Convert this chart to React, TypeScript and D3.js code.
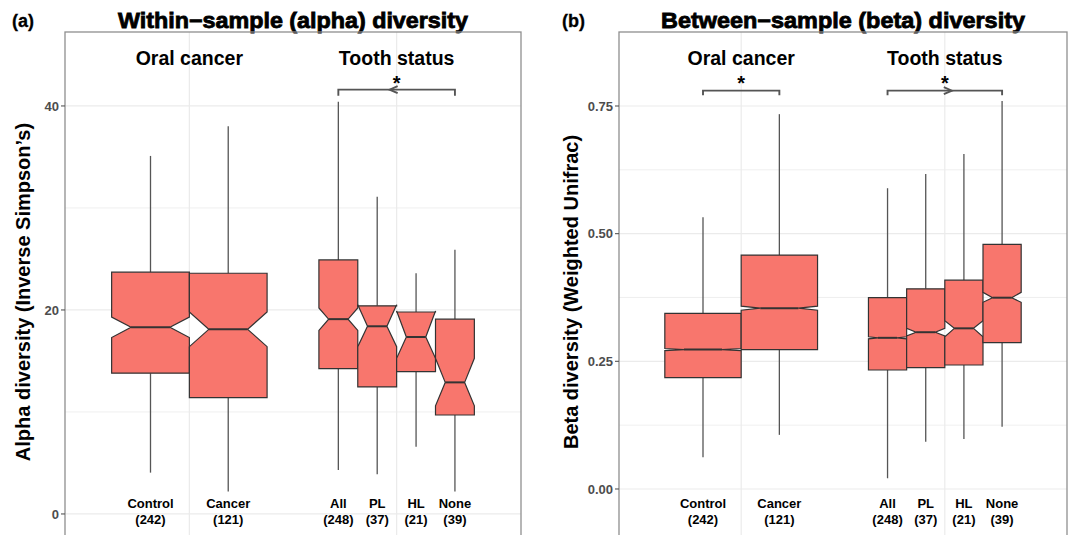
import React from "react";
import * as d3 from "d3";

// ---------------- data ----------------
const categories = ["Control", "Cancer", "All", "PL", "HL", "None"];
const sampleSizes = [242, 121, 248, 37, 21, 39];
const categoryGroup = [0, 0, 1, 1, 1, 1];
const groupNames = ["Oral cancer", "Tooth status"];

// alpha diversity (Inverse Simpson's)
const alphaLower = [4.05, 2.2, 4.3, 3.9, 6.6, 2.2];
const alphaQ1 = [13.8, 11.4, 14.25, 12.45, 13.95, 9.7];
const alphaMedian = [18.3, 18.1, 19.1, 18.4, 17.35, 12.9];
const alphaQ3 = [23.7, 23.6, 24.9, 20.4, 19.8, 19.1];
const alphaUpper = [35.1, 38.0, 40.4, 31.1, 23.6, 25.9];
const alphaNotchLow = [17.3, 16.4, 18.0, 16.4, 15.26, 10.6];
const alphaNotchHigh = [19.3, 19.8, 20.2, 20.5, 19.9, 15.26];
const alphaTicks = [0, 20, 40];
const alphaMinorTicks = [10, 30];
const alphaDomain = [-3.73, 47.25];

// beta diversity (Weighted Unifrac)
const betaLower = [0.062, 0.106, 0.021, 0.0926, 0.0979, 0.122];
const betaQ1 = [0.218, 0.273, 0.233, 0.2375, 0.2428, 0.2865];
const betaMedian = [0.273, 0.354, 0.296, 0.307, 0.3146, 0.3746];
const betaQ3 = [0.344, 0.458, 0.3746, 0.392, 0.409, 0.479];
const betaUpper = [0.532, 0.734, 0.589, 0.617, 0.656, 0.76];
const betaNotchLow = [0.271, 0.35, 0.294, 0.2996, 0.298, 0.3656];
const betaNotchHigh = [0.275, 0.358, 0.298, 0.3146, 0.3296, 0.385];
const betaTicks = [0, 0.25, 0.5, 0.75];
const betaTickLabels = ["0.00", "0.25", "0.50", "0.75"];
const betaMinorTicks = [0.125, 0.375, 0.625];
const betaDomain = [-0.1234, 0.8949];

// significance brackets
const alphaBracketFrom = ["All"];
const alphaBracketTo = ["None"];
const alphaBracketArrow = [-1];
const alphaBracketY = [41.6];
const alphaBracketTickY = [41.0];

const betaBracketFrom = ["Control", "All"];
const betaBracketTo = ["Cancer", "None"];
const betaBracketArrow = [0, 1];
const betaBracketY = [0.78, 0.78];
const betaBracketTickY = [0.771, 0.771];

// ---------------- styling ----------------
const FONT = "'Liberation Sans', Arial, Helvetica, sans-serif";
const FILL = "#F8766D";
const DARK = "#333333";
const GRID = "#EBEBEB";
const BORDER = "#8f8f8f";

function positions() {
  // dodged x positions (discrete axis, dodge width 0.75)
  return categories.map((_, i) => {
    const g = categoryGroup[i];
    const members = categories.map((__, j) => j).filter((j) => categoryGroup[j] === g);
    const k = members.length;
    const idx = members.indexOf(i);
    const w = 0.75 / k;
    return { center: g + 1 + (idx - (k - 1) / 2) * w, width: w };
  });
}

type PanelProps = {
  x0: number;
  x1: number;
  top: number;
  bottom: number;
  domain: number[];
  ticks: number[];
  tickLabels: string[];
  minor: number[];
  lower: number[];
  q1: number[];
  median: number[];
  q3: number[];
  upper: number[];
  nLow: number[];
  nHigh: number[];
  bFrom: string[];
  bTo: string[];
  bArrow: number[];
  bY: number[];
  bTickY: number[];
  yTitle: string;
  yTitleX: number;
  title: string;
  titleLen: number;
  tag: string;
  tagX: number;
};

function Panel(p: PanelProps) {
  const x = d3.scaleLinear().domain([0.4, 2.6]).range([p.x0, p.x1]);
  const y = d3.scaleLinear().domain(p.domain).range([p.bottom, p.top]);
  const pos = positions();
  const cx = (p.x0 + p.x1) / 2;
  const cy = (p.top + p.bottom) / 2;
  return (
    <g>
      {/* tag & title */}
      <text
        x={p.tagX}
        y={27}
        fontFamily={FONT}
        fontWeight="bold"
        fontSize={18}
        fill="#000"
        stroke="#000"
        strokeWidth={0.3}
      >
        {p.tag}
      </text>
      <text
        x={cx}
        y={27.5}
        textAnchor="middle"
        fontFamily={FONT}
        fontWeight="bold"
        fontSize={21.5}
        fill="#000"
        stroke="#000"
        strokeWidth={0.8}
        textLength={p.titleLen}
        lengthAdjust="spacingAndGlyphs"
      >
        {p.title}
      </text>
      {/* grid */}
      {p.minor.map((v) => (
        <line key={"mn" + v} x1={p.x0} x2={p.x1} y1={y(v)} y2={y(v)} stroke={GRID} strokeWidth={0.8} />
      ))}
      {p.ticks.map((v) => (
        <line key={"mj" + v} x1={p.x0} x2={p.x1} y1={y(v)} y2={y(v)} stroke={GRID} strokeWidth={1.2} />
      ))}
      {[1, 2].map((g) => (
        <line key={"vg" + g} x1={x(g)} x2={x(g)} y1={p.top} y2={p.bottom} stroke={GRID} strokeWidth={1.2} />
      ))}
      {/* group labels */}
      {groupNames.map((name, g) => (
        <text
          key={name}
          x={x(g + 1)}
          y={65}
          textAnchor="middle"
          fontFamily={FONT}
          fontWeight="bold"
          fontSize={19.5}
          fill="#000"
        >
          {name}
        </text>
      ))}
      {/* boxes */}
      {categories.map((c, i) => {
        const xc = x(pos[i].center);
        const half = (x(pos[i].width) - x(0)) / 2;
        const xmin = xc - half;
        const xmax = xc + half;
        const ind = half * 0.5;
        const d = [
          [xmin, y(p.q3[i])],
          [xmin, y(p.nHigh[i])],
          [xmin + ind, y(p.median[i])],
          [xmin, y(p.nLow[i])],
          [xmin, y(p.q1[i])],
          [xmax, y(p.q1[i])],
          [xmax, y(p.nLow[i])],
          [xmax - ind, y(p.median[i])],
          [xmax, y(p.nHigh[i])],
          [xmax, y(p.q3[i])],
        ];
        const path = "M" + d.map((pt) => pt.join(",")).join("L") + "Z";
        return (
          <g key={c}>
            <line x1={xc} x2={xc} y1={y(p.q3[i])} y2={y(p.upper[i])} stroke="#555" strokeWidth={1.3} />
            <line x1={xc} x2={xc} y1={y(p.q1[i])} y2={y(p.lower[i])} stroke="#555" strokeWidth={1.3} />
            <path d={path} fill={FILL} stroke={DARK} strokeWidth={1.2} strokeLinejoin="miter" />
            <line
              x1={xmin + ind}
              x2={xmax - ind}
              y1={y(p.median[i])}
              y2={y(p.median[i])}
              stroke={DARK}
              strokeWidth={2}
            />
            <text
              x={xc}
              y={508}
              textAnchor="middle"
              fontFamily={FONT}
              fontWeight="bold"
              fontSize={13}
              fill="#000"
            >
              {c}
            </text>
            <text
              x={xc}
              y={523.5}
              textAnchor="middle"
              fontFamily={FONT}
              fontWeight="bold"
              fontSize={13}
              fill="#000"
            >
              {"(" + sampleSizes[i] + ")"}
            </text>
          </g>
        );
      })}
      {/* brackets */}
      {p.bFrom.map((f, b) => {
        const i0 = categories.indexOf(f);
        const i1 = categories.indexOf(p.bTo[b]);
        const xa = x(pos[i0].center);
        const xb = x(pos[i1].center);
        const yb = y(p.bY[b]);
        const yt = y(p.bTickY[b]);
        const mid = (xa + xb) / 2;
        const dir = p.bArrow[b];
        const tip = mid + dir * 7;
        return (
          <g key={"br" + b}>
            <path
              d={`M${xa},${yt}L${xa},${yb}L${xb},${yb}L${xb},${yt}`}
              fill="none"
              stroke="#555"
              strokeWidth={1.9}
            />
            {dir !== 0 && (
              <path
                d={`M${tip - dir * 8},${yb - 3.5}L${tip},${yb}L${tip - dir * 8},${yb + 3.5}`}
                fill="none"
                stroke="#555"
                strokeWidth={1.9}
              />
            )}
            <text
              x={mid}
              y={90}
              textAnchor="middle"
              fontFamily={FONT}
              fontWeight="bold"
              fontSize={20}
              fill="#000"
            >
              *
            </text>
          </g>
        );
      })}
      {/* panel border */}
      <rect
        x={p.x0}
        y={p.top}
        width={p.x1 - p.x0}
        height={p.bottom - p.top}
        fill="none"
        stroke={BORDER}
        strokeWidth={1.3}
      />
      {/* y axis ticks */}
      {p.ticks.map((v, k) => (
        <g key={"t" + v}>
          <line x1={p.x0 - 4} x2={p.x0} y1={y(v)} y2={y(v)} stroke="#555" strokeWidth={1.1} />
          <text
            x={p.x0 - 6}
            y={y(v)}
            dy="0.36em"
            textAnchor="end"
            fontFamily={FONT}
            fontWeight="bold"
            fontSize={13}
            fill="#4D4D4D"
          >
            {p.tickLabels[k]}
          </text>
        </g>
      ))}
      <text
        transform={`translate(${p.yTitleX},${cy}) rotate(-90)`}
        textAnchor="middle"
        fontFamily={FONT}
        fontWeight="bold"
        fontSize={20}
        fill="#000"
      >
        {p.yTitle}
      </text>
    </g>
  );
}

export default function App() {
  return (
    <div style={{ position: "absolute", left: 0, top: 0, width: 1072, height: 535, background: "#fff" }}>
      <svg width={1072} height={535} style={{ display: "block" }}>
        <rect width={1072} height={535} fill="#fff" />
        <Panel
          x0={65}
          x1={521}
          top={32}
          bottom={552}
          domain={alphaDomain}
          ticks={alphaTicks}
          tickLabels={alphaTicks.map(String)}
          minor={alphaMinorTicks}
          lower={alphaLower}
          q1={alphaQ1}
          median={alphaMedian}
          q3={alphaQ3}
          upper={alphaUpper}
          nLow={alphaNotchLow}
          nHigh={alphaNotchHigh}
          bFrom={alphaBracketFrom}
          bTo={alphaBracketTo}
          bArrow={alphaBracketArrow}
          bY={alphaBracketY}
          bTickY={alphaBracketTickY}
          yTitle={"Alpha diversity (Inverse Simpson\u2019s)"}
          yTitleX={30}
          title={"Within\u2212sample (alpha) diversity"}
          titleLen={350}
          tag="(a)"
          tagX={12}
        />
        <Panel
          x0={619}
          x1={1067}
          top={32}
          bottom={552}
          domain={betaDomain}
          ticks={betaTicks}
          tickLabels={betaTickLabels}
          minor={betaMinorTicks}
          lower={betaLower}
          q1={betaQ1}
          median={betaMedian}
          q3={betaQ3}
          upper={betaUpper}
          nLow={betaNotchLow}
          nHigh={betaNotchHigh}
          bFrom={betaBracketFrom}
          bTo={betaBracketTo}
          bArrow={betaBracketArrow}
          bY={betaBracketY}
          bTickY={betaBracketTickY}
          yTitle={"Beta diversity (Weighted Unifrac)"}
          yTitleX={577.5}
          title={"Between\u2212sample (beta) diversity"}
          titleLen={364}
          tag="(b)"
          tagX={562}
        />
      </svg>
    </div>
  );
}
